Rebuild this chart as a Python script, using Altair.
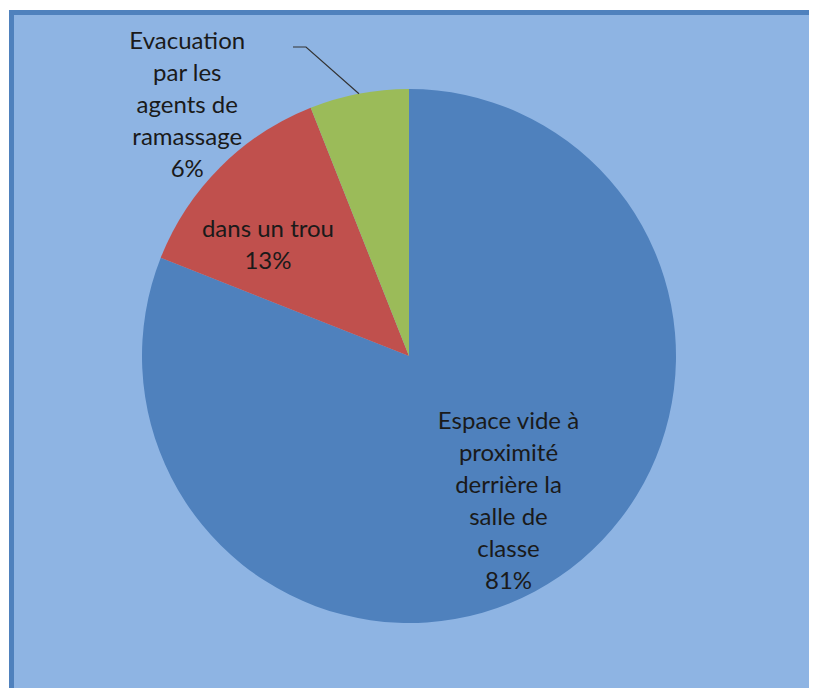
import math
import altair as alt
import pandas as pd

# ---- data ----
categories = [
    "Espace vide à proximité derrière la salle de classe",
    "dans un trou",
    "Evacuation par les agents de ramassage",
]
values = [81, 13, 6]
label_lines = [
    ["Espace vide à", "proximité", "derrière la", "salle de", "classe"],
    ["dans un trou"],
    ["Evacuation", "par les", "agents de", "ramassage"],
]
colors = ["#4F81BD", "#C0504D", "#9BBB59"]

# ---- layout ----
W, H = 800, 678
CX, CY, R = 400, 346, 267
LH = 32
# label placement per slice: (radius from centre, angle offset in degrees from slice middle)
label_place = [(177, 0.0), (179, -7.0), (334, -30.8)]
FONT = "Lato"
FS = 24

total = sum(values)
rows = []
cum = 0
for i, (c, v) in enumerate(zip(categories, values)):
    mid = (cum + v / 2) / total * 360.0
    cum += v
    r, off = label_place[i]
    a = math.radians(mid + off)
    lines = label_lines[i] + [f"{round(v / total * 100)}%"]
    rows.append({
        "category": c,
        "value": v,
        "order": i,
        "label": "\n".join(lines),
        "mid": mid,
        "lx": CX + r * math.sin(a),
        # centre the block of lines on the anchor point
        "ly": CY - r * math.cos(a) - (len(lines) - 1) * LH / 2,
    })
df = pd.DataFrame(rows)

# leader line for the small slice: from the arc edge to an elbow near its label
g = df.iloc[2]
ga = math.radians(g["mid"])
leader = pd.DataFrame({
    "px": [CX + R * math.sin(ga), 297, 284],
    "py": [CY - R * math.cos(ga), 37, 37],
    "k": [0, 1, 2],
})

arcs = alt.Chart(df).mark_arc(outerRadius=R, strokeWidth=0).encode(
    theta=alt.Theta("value:Q", stack=True),
    color=alt.Color("category:N", scale=alt.Scale(domain=categories, range=colors), legend=None),
    order=alt.Order("order:Q"),
    x=alt.value(CX),
    y=alt.value(CY),
)

labels = alt.Chart(df).mark_text(
    font=FONT, fontSize=FS, lineHeight=LH, lineBreak="\n",
    align="center", baseline="middle", color="#1a1a1a",
).encode(
    x=alt.X("lx:Q", scale=None),
    y=alt.Y("ly:Q", scale=None),
    text="label:N",
)

leader_line = alt.Chart(leader).mark_line(color="#333333", strokeWidth=1.2).encode(
    x=alt.X("px:Q", scale=None),
    y=alt.Y("py:Q", scale=None),
    order="k:Q",
)

one = pd.DataFrame({"a": [0]})
border_left = alt.Chart(one).mark_rule(color="#4F81BD", strokeWidth=5).encode(
    x=alt.value(2.5), y=alt.value(0), y2=alt.value(H)
)
border_top = alt.Chart(one).mark_rule(color="#4F81BD", strokeWidth=5).encode(
    y=alt.value(2.5), x=alt.value(0), x2=alt.value(W)
)

chart = (
    alt.layer(arcs, leader_line, labels, border_left, border_top)
    .properties(
        width=W, height=H,
        padding={"left": 1, "top": 2, "right": 0, "bottom": 0},
        autosize=alt.AutoSizeParams(type="none"),
        background="white",
    )
    .configure_view(fill="#8EB4E3", strokeWidth=0)
)

chart.save("out.html", embed_options={"renderer": "svg", "actions": False})
